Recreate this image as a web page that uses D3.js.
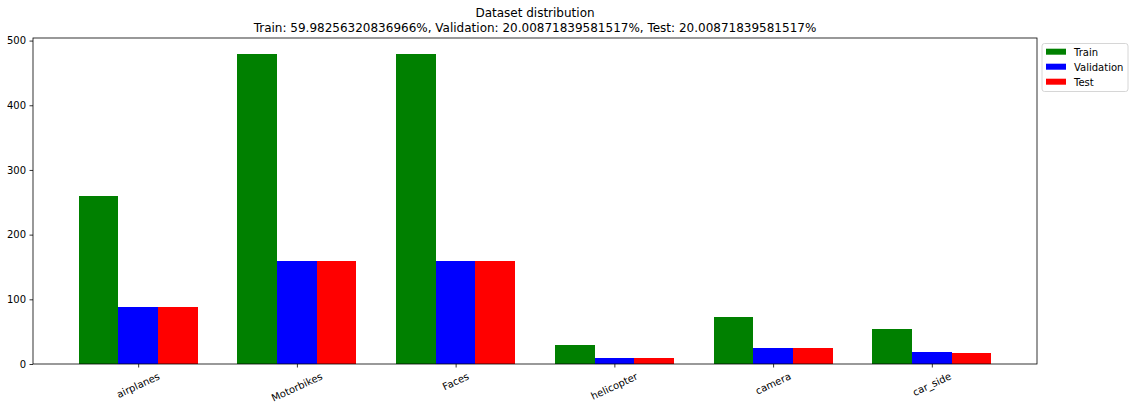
<!DOCTYPE html>
<html><head><meta charset="utf-8">
<script src="https://cdn.jsdelivr.net/npm/d3@7"></script>
<style>body{margin:0;background:#fff}svg{display:block;font-family:"DejaVu Sans",sans-serif}</style>
</head><body>
<svg id="c" width="1135" height="410"></svg>
<script>
const categories = ["airplanes","Motorbikes","Faces","helicopter","camera","car_side"];
const trainValues = [260,479,480,30,73,54];
const validationValues = [88,160,160,10,24,18];
const testValues = [88,160,160,10,24,17];
const yTicks = [0,100,200,300,400,500];
const seriesNames = ["Train","Validation","Test"];
const seriesColors = ["green","blue","red"];
const titleLines = ["Dataset distribution",
  "Train: 59.98256320836966%, Validation: 20.00871839581517%, Test: 20.00871839581517%"];

const series = [trainValues, validationValues, testValues];
const svg = d3.select("#c");
const L = 33, R = 1037, T = 38, B = 364;
const bw = 0.25;
const n = categories.length;
const lo = -1.5*bw, hi = (n-1)+1.5*bw, m = (hi-lo)*0.05;
const x = d3.scaleLinear().domain([lo-m, hi+m]).range([L,R]);
const ymax = d3.max(series.flat());
const y = d3.scaleLinear().domain([0, ymax*1.05]).range([B,T]);

// bars
series.forEach((vals,si)=>{
  svg.append("g").attr("shape-rendering","crispEdges").selectAll("rect").data(vals).join("rect")
    .attr("x",(d,i)=>x(i+(si-1)*bw-bw/2))
    .attr("width",(d,i)=>x(i+(si-1)*bw+bw/2)-x(i+(si-1)*bw-bw/2))
    .attr("y",d=>y(d)).attr("height",d=>B-y(d))
    .attr("fill",seriesColors[si]);
});

// y axis
const ya = svg.append("g").attr("transform",`translate(${L},0)`)
  .call(d3.axisLeft(y).tickValues(yTicks).tickSize(3.5).tickPadding(3.5).tickFormat(d3.format("d")));
ya.select(".domain").remove();
ya.selectAll("text").attr("font-size",10).attr("fill","#000").attr("font-family","DejaVu Sans");
ya.selectAll("line").attr("stroke","#000").attr("stroke-width",0.8);

// x axis ticks
const xa = svg.append("g").attr("transform",`translate(0,${B})`)
  .call(d3.axisBottom(x).tickValues(d3.range(n)).tickSize(3.5).tickFormat(""));
xa.select(".domain").remove();
xa.selectAll("line").attr("stroke","#000").attr("stroke-width",0.8);

// rotated x labels
const ang = 25*Math.PI/180;
const lab = svg.append("g");
categories.forEach((c,i)=>{
  const t = lab.append("text").text(c).attr("font-size",10).attr("fill","#000")
    .attr("text-anchor","middle").attr("dominant-baseline","central");
  const w = t.node().getComputedTextLength();
  const h = 10*1.0;
  const bh = w*Math.sin(ang)+h*Math.cos(ang);
  const cx = x(i), cy = B+7+bh/2;
  t.attr("transform",`translate(${cx},${cy}) rotate(-25)`);
});

// spines
svg.append("rect").attr("x",L).attr("y",T).attr("width",R-L).attr("height",B-T)
  .attr("fill","none").attr("stroke","#000").attr("stroke-width",0.8);

// title
titleLines.forEach((s,i)=>{
  svg.append("text").attr("x",(L+R)/2).attr("y",17+i*15).attr("text-anchor","middle")
    .attr("font-size",12).attr("fill","#000").text(s);
});

// legend
const lg = svg.append("g").attr("transform","translate(1042,43.5)");
lg.append("rect").attr("width",86).attr("height",48).attr("rx",2.5)
  .attr("fill","#fff").attr("fill-opacity",0.8).attr("stroke","#ccc").attr("stroke-width",0.8);
seriesNames.forEach((s,i)=>{
  lg.append("rect").attr("x",4).attr("y",5.2+i*15).attr("width",20).attr("height",6).attr("fill",seriesColors[i]);
  lg.append("text").attr("x",32).attr("y",8.5+i*15).attr("dominant-baseline","central")
    .attr("font-size",10).attr("fill","#000").text(s);
});
</script>
</body></html>
